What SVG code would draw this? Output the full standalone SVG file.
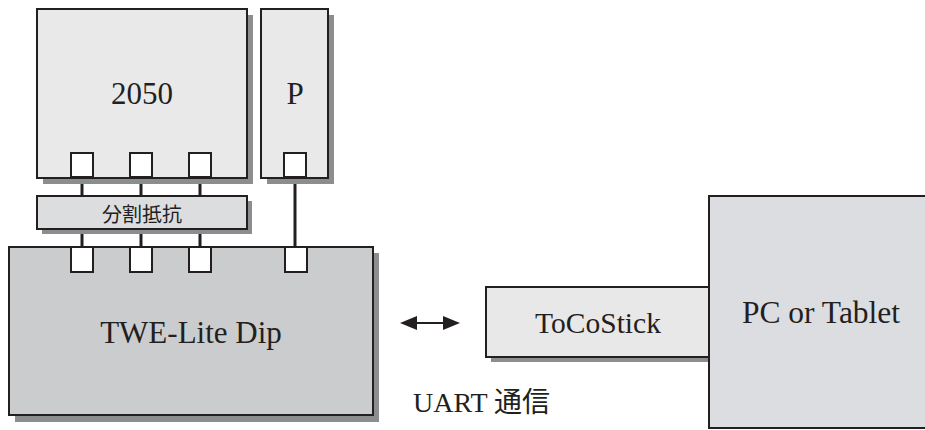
<svg xmlns="http://www.w3.org/2000/svg" width="925" height="430" viewBox="0 0 925 430">
<style>
.box{stroke:#231f20;stroke-width:2}
.sh{fill:#8c8d8f}
.pin{fill:#ffffff;stroke:#231f20;stroke-width:2}
.wire{stroke:#231f20;stroke-width:3;fill:none}
.t{fill:#231f20;text-anchor:middle;font-family:'Liberation Serif','Times New Roman',serif}
.j{fill:#231f20;text-anchor:middle;font-family:'Noto Sans CJK JP',sans-serif}
.head{fill:#231f20}
</style>
<rect width="925" height="430" fill="#ffffff"/>
<g id="connectors">
<line class="wire" x1="82" y1="178" x2="82" y2="247"/>
<line class="wire" x1="141" y1="178" x2="141" y2="247"/>
<line class="wire" x1="200" y1="178" x2="200" y2="247"/>
<line class="wire" x1="295" y1="178" x2="295" y2="247"/>
<line x1="412" y1="323" x2="448" y2="323" stroke="#231f20" stroke-width="2"/>
<path class="head" d="M400,323 L417,316 L417,330 Z"/>
<path class="head" d="M460,323 L443,316 L443,330 Z"/>
</g>
<g id="n2050">
<rect class="sh" x="43" y="15" width="210" height="169"/>
<rect class="box" x="37" y="9" width="210" height="169" fill="#e9e9ea"/>
<text class="t" x="142" y="104" font-size="31">2050</text>
<rect class="pin" x="71" y="153" width="22" height="24"/>
<rect class="pin" x="130" y="153" width="22" height="24"/>
<rect class="pin" x="189" y="153" width="22" height="24"/>
</g>
<g id="nP">
<rect class="sh" x="267" y="15" width="67" height="169"/>
<rect class="box" x="261" y="9" width="67" height="169" fill="#e9e9ea"/>
<text class="t" x="295" y="104" font-size="31">P</text>
<rect class="pin" x="284" y="153" width="22" height="24"/>
</g>
<g id="nDiv">
<rect class="sh" x="42" y="201" width="210" height="33"/>
<rect class="box" x="37" y="196" width="210" height="33" fill="#dcdddf"/>
<text class="j" x="142" y="222" font-size="20">分割抵抗</text>
</g>
<g id="nTWE">
<rect class="sh" x="15" y="253" width="364" height="169"/>
<rect class="box" x="9" y="247" width="364" height="168" fill="#cbccce"/>
<text class="t" x="191" y="343" font-size="31">TWE-Lite Dip</text>
<rect class="pin" x="71" y="247" width="22" height="25"/>
<rect class="pin" x="130" y="247" width="22" height="25"/>
<rect class="pin" x="189" y="247" width="22" height="25"/>
<rect class="pin" x="285" y="247" width="22" height="25"/>
</g>
<g id="nToCo">
<rect class="sh" x="491" y="292" width="222" height="70"/>
<rect class="box" x="486" y="287" width="224" height="70" fill="#e8e8e9"/>
<text class="t" x="598" y="333" font-size="29.5">ToCoStick</text>
</g>
<g id="nPC">
<rect class="box" x="709" y="196" width="230" height="232" fill="#dcdde0"/>
<text class="t" x="821" y="323" font-size="31.5">PC or Tablet</text>
</g>
<text x="413" y="412" font-size="28" fill="#231f20" font-family="'Liberation Serif','Noto Sans CJK JP',serif">UART <tspan font-family="'Noto Sans CJK JP',sans-serif">通信</tspan></text>
</svg>
